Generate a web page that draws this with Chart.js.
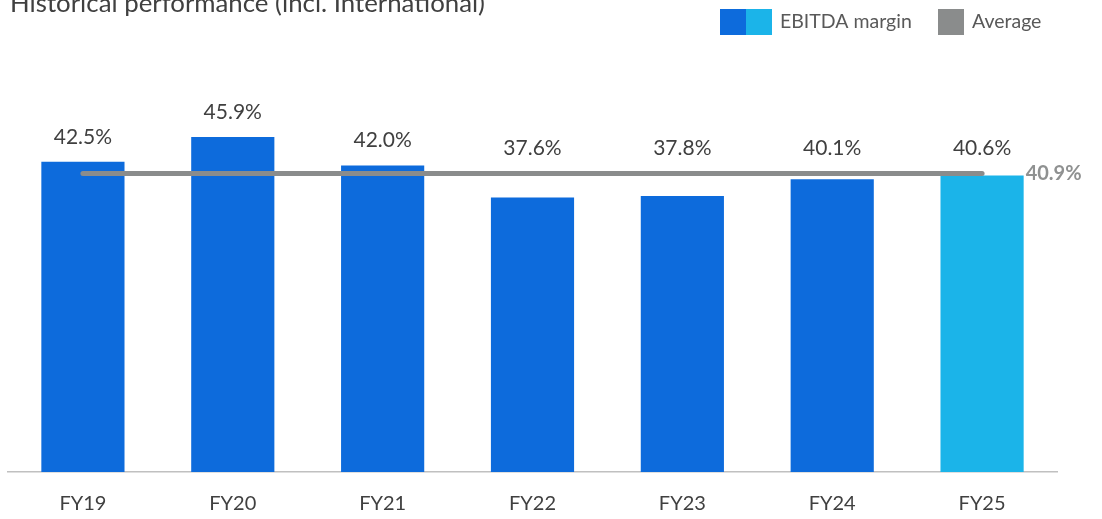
<!DOCTYPE html>
<html><head><meta charset="utf-8">
<script src="https://cdn.jsdelivr.net/npm/chart.js@4/dist/chart.umd.min.js"></script>
<style>html,body{margin:0;padding:0;background:#fff;overflow:hidden}</style>
</head><body><canvas id="c" width="1102" height="519"></canvas>
<script>
const chartTitle = 'Historical performance (incl. International)';
const categories = ['FY19','FY20','FY21','FY22','FY23','FY24','FY25'];
const ebitdaMargin = [42.5, 45.9, 42.0, 37.6, 37.8, 40.1, 40.6];
const averageLine = [40.9, 40.9, 40.9, 40.9, 40.9, 40.9, 40.9];
const averageValue = 40.9;
const seriesNames = ['EBITDA margin', 'Average'];
const yAxisMax = 60;

const DARK = '#0d6bdc', LIGHT = '#1bb4e9', GREY = '#8a8c8c', TEXT = '#404040';
const FONT = 'Lato, "Open Sans", sans-serif';
const barColors = categories.map((c, i) => i === categories.length - 1 ? LIGHT : DARK);
const fmt = v => v.toFixed(1) + '%';

const decor = {
  id: 'decor',
  afterDatasetsDraw(chart) {
    const ctx = chart.ctx;
    const barMeta = chart.getDatasetMeta(0);
    const lineMeta = chart.getDatasetMeta(1);
    const avgY = chart.scales.y.getPixelForValue(averageValue);
    ctx.save();
    // data labels
    ctx.font = '21px ' + FONT;
    ctx.fillStyle = TEXT;
    ctx.textAlign = 'center';
    ctx.textBaseline = 'middle';
    barMeta.data.forEach((bar, i) => {
      const top = Math.min(bar.y, avgY);
      ctx.fillText(fmt(ebitdaMargin[i]), bar.x, top - 25);
    });
    // average label
    const lastBar = barMeta.data[barMeta.data.length - 1];
    const lastPt = lineMeta.data[lineMeta.data.length - 1];
    ctx.font = 'bold 20px ' + FONT;
    ctx.fillStyle = '#8f9191';
    ctx.textAlign = 'left';
    ctx.fillText(fmt(averageValue), lastBar.x + lastBar.width / 2 + 2, lastPt.y);
    // title (compressed horizontally to the reference width)
    ctx.fillStyle = TEXT;
    ctx.textBaseline = 'alphabetic';
    ctx.font = '25px ' + FONT;
    const w = ctx.measureText(chartTitle).width;
    ctx.save();
    ctx.translate(10, 12);
    ctx.scale(475 / w, 1);
    ctx.fillText(chartTitle, 0, 0);
    ctx.restore();
    // legend
    ctx.font = '19.5px ' + FONT;
    ctx.fillStyle = DARK; ctx.fillRect(720, 9, 26, 26);
    ctx.fillStyle = LIGHT; ctx.fillRect(746, 9, 26, 26);
    ctx.fillStyle = '#595959'; ctx.textBaseline = 'middle';
    ctx.fillText(seriesNames[0], 780, 22);
    ctx.fillStyle = GREY; ctx.fillRect(938, 9, 26, 26);
    ctx.fillStyle = '#595959';
    ctx.fillText(seriesNames[1], 972, 22);
    ctx.restore();
  }
};

new Chart(document.getElementById('c'), {
  data: {
    labels: categories,
    datasets: [
      { type: 'bar', label: seriesNames[0], data: ebitdaMargin, backgroundColor: barColors,
        barPercentage: 0.555, categoryPercentage: 1, order: 1 },
      { type: 'line', label: seriesNames[1], data: averageLine, borderColor: GREY, borderWidth: 5,
        borderCapStyle: 'round', pointRadius: 0, pointHoverRadius: 0, fill: false, order: 0 }
    ]
  },
  options: {
    responsive: false,
    animation: false,
    devicePixelRatio: 1,
    layout: { padding: { top: 34, left: 8, right: 45, bottom: 0 } },
    plugins: { legend: { display: false }, tooltip: { enabled: false }, title: { display: false } },
    scales: {
      x: {
        grid: { display: false, drawTicks: false },
        border: { display: true, color: '#c0c0c0', width: 1.5 },
        ticks: { color: TEXT, font: { family: FONT, size: 20 }, padding: 20 },
        afterFit(s) { s.height = 47; }
      },
      y: { display: false, min: 0, max: yAxisMax }
    }
  },
  plugins: [decor]
});
</script>
</body></html>
